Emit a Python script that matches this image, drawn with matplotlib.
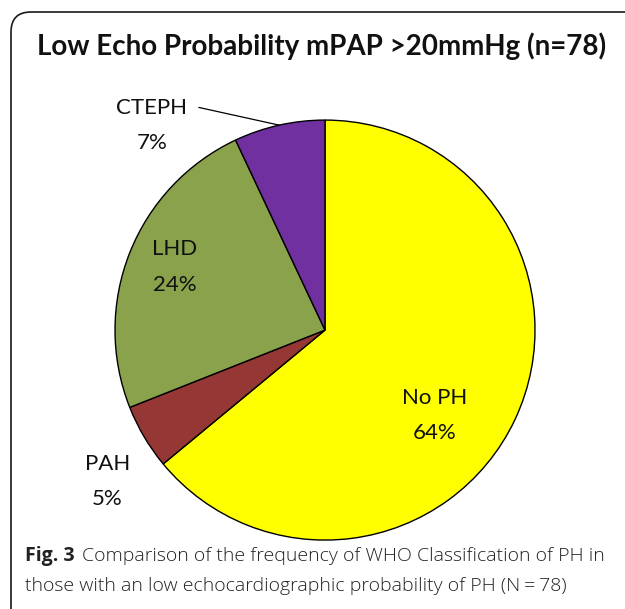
import numpy as np
import matplotlib
matplotlib.use("Agg")
import matplotlib.pyplot as plt
from matplotlib.patches import FancyBboxPatch

# datos del gráfico
categorias = ["No PH", "PAH", "LHD", "CTEPH"]
porcentajes = [64, 5, 24, 7]
colores = ["#FFFF00", "#953735", "#8AA24C", "#7030A0"]

titulo = "Low Echo Probability mPAP >20mmHg (n=78)"
pie_fig = "Fig. 3"
pie_texto_1 = "Comparison of the frequency of WHO Classification of PH in"
pie_texto_2 = "those with an low echocardiographic probability of PH (N\u2009=\u200978)"

# posición de las etiquetas (en unidades del radio)
pos_etiquetas = [(0.52, -0.405), (-1.035, -0.72), (-0.715, 0.30), (-0.825, 0.975)]

fig = plt.figure(figsize=(6.25, 6.09), dpi=100)

# marco de fondo en píxeles
fondo = fig.add_axes([0, 0, 1, 1])
fondo.set_xlim(0, 625)
fondo.set_ylim(609, 0)
fondo.axis("off")
marco = FancyBboxPatch((11, 12), 800, 800, boxstyle="round,pad=0,rounding_size=20",
                       facecolor="white", edgecolor="#1a1a1a", linewidth=1.2)
fondo.add_patch(marco)

fondo.text(322, 46, titulo, fontsize=20, fontweight="bold", family="Lato",
           ha="center", va="center", color="#111111")

# pie de figura: "Fig. 3" en negrita y a continuación el texto normal
t_fig = fondo.text(25, 556, pie_fig, fontsize=14, fontweight="bold", family="Open Sans",
                   ha="left", va="center", color="#222222")
fig.canvas.draw()
caja = t_fig.get_window_extent()
x_fin = fondo.transData.inverted().transform((caja.x1, caja.y0))[0]
fondo.text(x_fin + 7, 556, pie_texto_1, fontsize=14, family="Open Sans",
           fontweight="light", ha="left", va="center", color="#222222")
fondo.text(25, 586, pie_texto_2, fontsize=14, family="Open Sans",
           fontweight="light", ha="left", va="center", color="#222222")

# tarta
ax = fig.add_axes([0.184, 0.113, 0.672, 0.690])
cunas, _ = ax.pie(porcentajes, colors=colores, startangle=90, counterclock=False,
                  radius=1, wedgeprops=dict(edgecolor="black", linewidth=1.0))
ax.set_xlim(-1, 1)
ax.set_ylim(-1, 1)
ax.set_aspect("equal")
ax.axis("off")

for nombre, valor, (x, y) in zip(categorias, porcentajes, pos_etiquetas):
    ax.text(x, y, f"{nombre}\n{valor}%", fontsize=16, family="Lato",
            ha="center", va="center", linespacing=1.95, color="#111111")

# línea guía de CTEPH hasta el borde de su cuña
c = cunas[3]
ang = np.deg2rad((c.theta1 + c.theta2) / 2)
ax.plot([-0.60, np.cos(ang)], [1.06, np.sin(ang)], color="black", lw=0.9,
        clip_on=False)

plt.savefig("out.png", dpi=100)
